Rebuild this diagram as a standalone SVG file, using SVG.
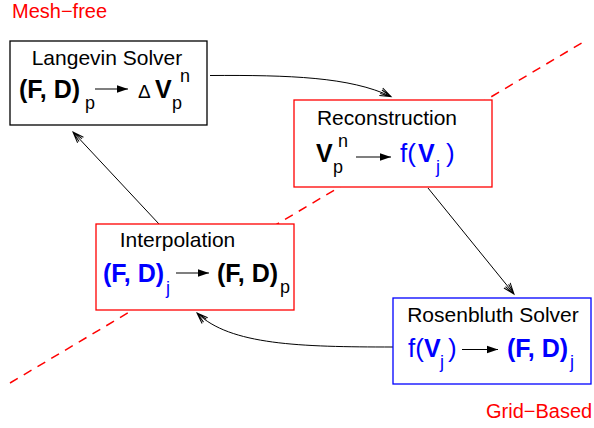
<svg xmlns="http://www.w3.org/2000/svg" width="594" height="428" viewBox="0 0 594 428">
<style>
text{font-family:"Liberation Sans",Arial,sans-serif}
.lbl{font-size:20px;fill:#ff0000}
.title{font-size:21px;fill:#000;text-anchor:middle}
.m{font-size:25px;font-weight:bold}
.n{font-size:26px}
.s{font-size:18px}
.blue{fill:#0000ff}
.blk{fill:#000}
.box{fill:#fff;stroke-width:1.3}
.conn{fill:none;stroke:#000;stroke-width:1}
.inarrow{stroke:#000;stroke-width:1.2}
</style>
<defs>
<marker id="stick" markerUnits="userSpaceOnUse" markerWidth="14" markerHeight="12" viewBox="-12 -6 14 12" refX="0" refY="0" orient="auto">
<path d="M -11 -4 L 0 0 L -11 4 M -11 -2 L 0 0 L -11 2" fill="none" stroke="#000" stroke-width="1"/>
</marker>
<marker id="solid" markerUnits="userSpaceOnUse" markerWidth="12" markerHeight="10" viewBox="-11 -5 12 10" refX="0" refY="0" orient="auto">
<path d="M -11 -3.8 L 0 0 L -11 3.8 Z" fill="#000"/>
</marker>
</defs>

<line x1="10" y1="383" x2="585" y2="41" stroke="#ff0000" stroke-width="1.5" stroke-dasharray="9 7"/>

<text class="lbl" x="12" y="17.5">Mesh−free</text>
<text class="lbl" x="486" y="418">Grid−Based</text>

<g id="connectors">
<path class="conn" d="M 210 75.5 C 290 75, 350 77, 391 96.5" marker-end="url(#stick)"/>
<path class="conn" d="M 428 188 L 514 294" marker-end="url(#stick)"/>
<path class="conn" d="M 393 347 C 300 347, 230 345, 197 313" marker-end="url(#stick)"/>
<path class="conn" d="M 159 224 L 73 132" marker-end="url(#stick)"/>
</g>

<g id="langevin">
<rect class="box" x="10" y="41" width="197" height="84" stroke="#000"/>
<text class="title" x="107" y="65">Langevin Solver</text>
<text class="m blk" x="19" y="98">(F, D)</text>
<text class="s blk" x="85" y="109">p</text>
<line class="inarrow" x1="95" y1="89" x2="128" y2="89" marker-end="url(#solid)"/>
<text class="blk" x="138" y="98" style="font-size:19px">Δ</text>
<text class="m blk" x="155" y="98">V</text>
<text class="s blk" x="172" y="109">p</text>
<text class="s blk" x="180" y="82">n</text>
</g>

<g id="reconstruction">
<rect class="box" x="294" y="100" width="198" height="87" stroke="#ff0000"/>
<text class="title" x="387" y="125">Reconstruction</text>
<text class="m blk" x="316" y="162">V</text>
<text class="s blk" x="333" y="173">p</text>
<text class="s blk" x="338" y="147">n</text>
<line class="inarrow" x1="356" y1="157" x2="391" y2="157" marker-end="url(#solid)"/>
<text class="n blue" x="400" y="162">f(</text>
<text class="m blue" x="418" y="162">V</text>
<text class="s blue" x="436" y="173">j</text>
<text class="n blue" x="446" y="162">)</text>
</g>

<g id="interpolation">
<rect class="box" x="96" y="224" width="198" height="86" stroke="#ff0000"/>
<text class="title" x="177.5" y="247">Interpolation</text>
<text class="m blue" x="103" y="282">(F, D)</text>
<text class="s blue" x="166" y="294">j</text>
<line class="inarrow" x1="176" y1="273" x2="209" y2="273" marker-end="url(#solid)"/>
<text class="m blk" x="217" y="282">(F, D)</text>
<text class="s blk" x="280" y="293">p</text>
</g>

<g id="rosenbluth">
<rect class="box" x="393" y="298" width="198" height="86" stroke="#0000ff"/>
<text class="title" x="493" y="322">Rosenbluth Solver</text>
<text class="n blue" x="408" y="357">f(</text>
<text class="m blue" x="424" y="357">V</text>
<text class="s blue" x="440" y="368">j</text>
<text class="n blue" x="448" y="357">)</text>
<line class="inarrow" x1="462" y1="349.5" x2="498" y2="349.5" marker-end="url(#solid)"/>
<text class="m blue" x="507" y="357">(F, D)</text>
<text class="s blue" x="570" y="368">j</text>
</g>
</svg>
